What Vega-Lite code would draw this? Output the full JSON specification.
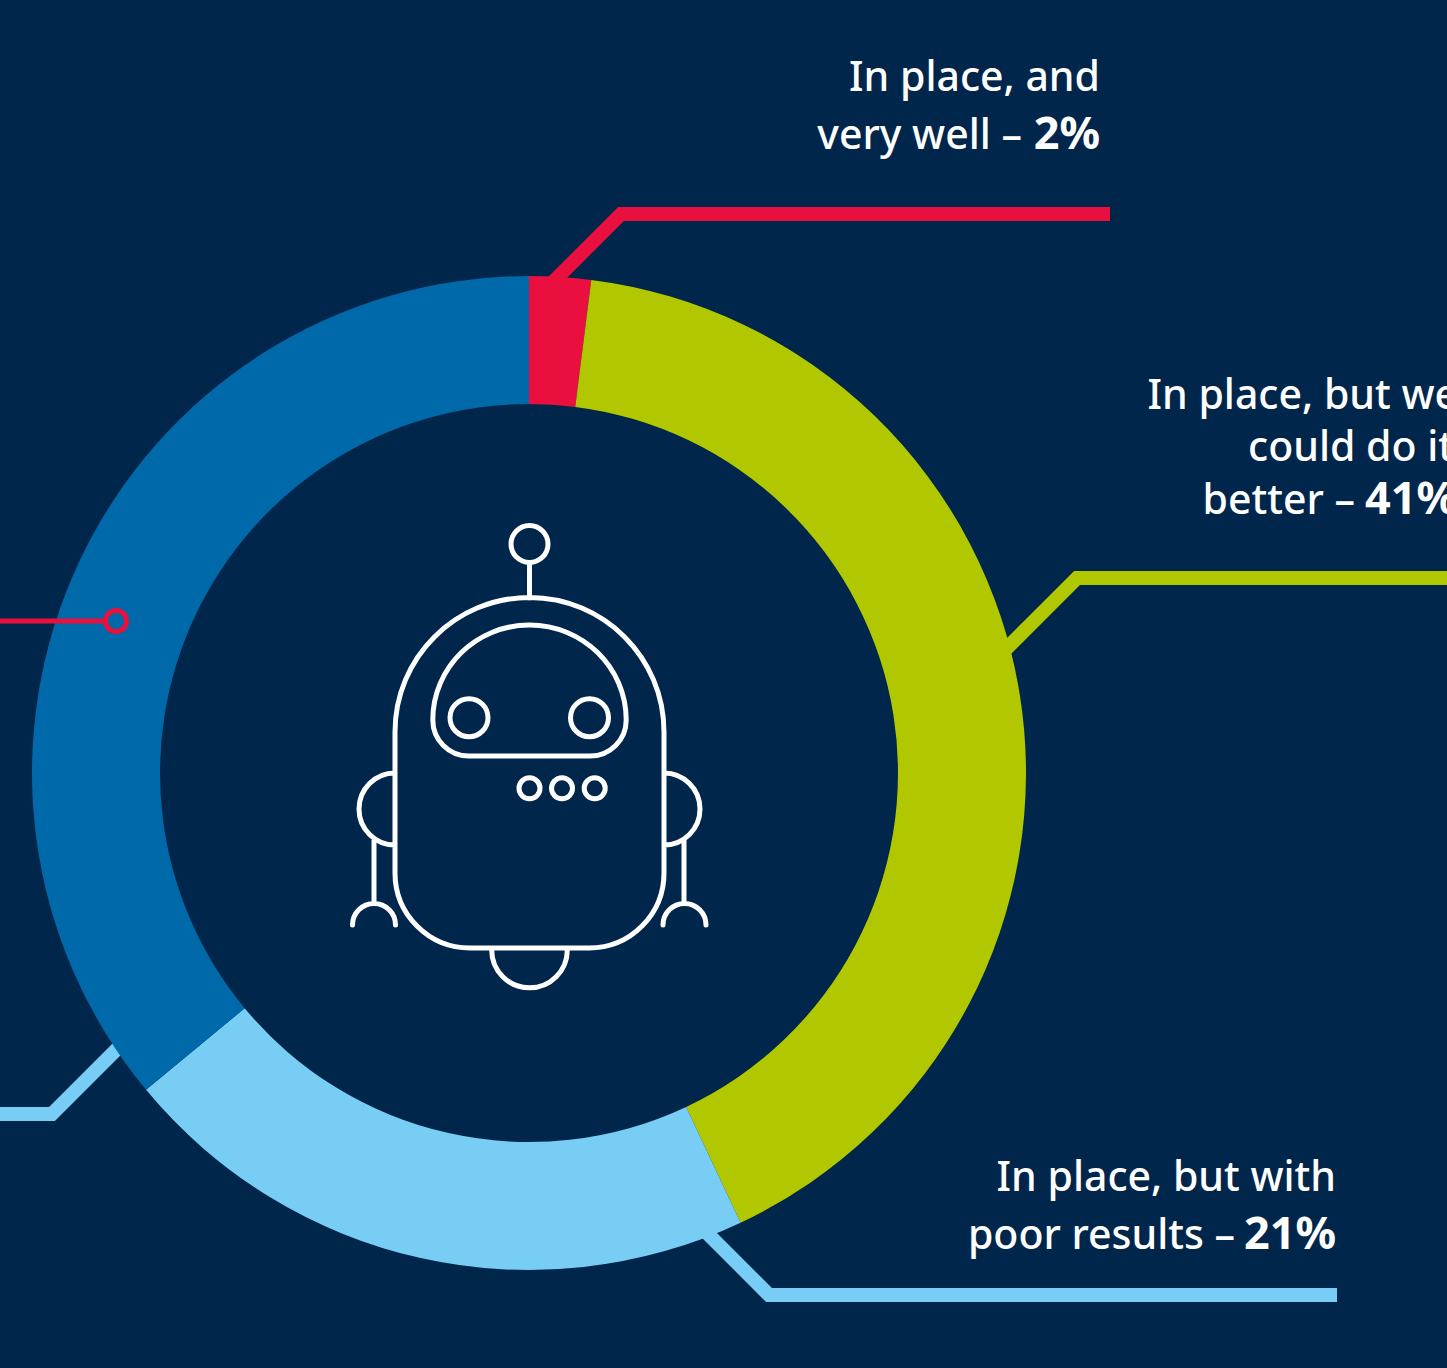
{
  "$schema": "https://vega.github.io/schema/vega-lite/v6.json",
  "width": 1447,
  "height": 1368,
  "padding": 0,
  "autosize": "none",
  "background": "#00264B",
  "view": {"stroke": null},
  "datasets": {
    "segments": [
      {"segment": "In place, and very well", "share": 2, "rank": 1},
      {"segment": "In place, but we could do it better", "share": 41, "rank": 2},
      {"segment": "In place, but with poor results", "share": 21, "rank": 3},
      {"segment": "Remainder", "share": 36, "rank": 4}
    ],
    "leaders": [
      {"leader": "a", "segment": "In place, and very well", "step": 1, "px": 1110, "py": 214},
      {"leader": "a", "segment": "In place, and very well", "step": 2, "px": 621, "py": 214},
      {"leader": "a", "segment": "In place, and very well", "step": 3, "px": 551, "py": 284},
      {"leader": "b", "segment": "In place, but we could do it better", "step": 1, "px": 1447, "py": 578},
      {"leader": "b", "segment": "In place, but we could do it better", "step": 2, "px": 1077, "py": 578},
      {"leader": "b", "segment": "In place, but we could do it better", "step": 3, "px": 1000, "py": 655},
      {"leader": "c", "segment": "In place, but with poor results", "step": 1, "px": 1337, "py": 1295},
      {"leader": "c", "segment": "In place, but with poor results", "step": 2, "px": 769, "py": 1295},
      {"leader": "c", "segment": "In place, but with poor results", "step": 3, "px": 698, "py": 1224},
      {"leader": "d", "segment": "In place, but with poor results", "step": 1, "px": 0, "py": 1114},
      {"leader": "d", "segment": "In place, but with poor results", "step": 2, "px": 52, "py": 1114},
      {"leader": "d", "segment": "In place, but with poor results", "step": 3, "px": 135, "py": 1031}
    ],
    "callout": [
      {"step": 1, "px": 0, "py": 621},
      {"step": 2, "px": 105, "py": 621}
    ],
    "regular": [
      {"line": "In place, and", "px": 1100, "py": 91},
      {"line": "very well –", "px": 1022, "py": 149},
      {"line": "In place, but we", "px": 1458, "py": 409},
      {"line": "could do it", "px": 1454, "py": 461},
      {"line": "better –", "px": 1355, "py": 514},
      {"line": "In place, but with", "px": 1336, "py": 1191},
      {"line": "poor results –", "px": 1235, "py": 1249}
    ],
    "strong": [
      {"line": "2%", "px": 1100, "py": 149},
      {"line": "41%", "px": 1457, "py": 514},
      {"line": "21%", "px": 1336, "py": 1249}
    ],
    "robot": [
      {"figure": "robot"}
    ],
    "marker": [
      {"figure": "callout end"}
    ]
  },
  "layer": [
    {
      "data": {"name": "leaders"},
      "mark": {"type": "line", "strokeWidth": 14, "strokeCap": "butt", "strokeJoin": "miter"},
      "encoding": {
        "x": {"field": "px", "type": "quantitative", "scale": {"domain": [0, 1447], "nice": false}, "axis": null},
        "y": {"field": "py", "type": "quantitative", "scale": {"domain": [1368, 0], "nice": false}, "axis": null},
        "order": {"field": "step"},
        "detail": {"field": "leader"},
        "color": {
          "field": "segment", "type": "nominal", "legend": null,
          "scale": {
            "domain": ["In place, and very well", "In place, but we could do it better", "In place, but with poor results", "Remainder"],
            "range": ["#E9103F", "#B1C800", "#78CDF5", "#0069AA"]
          }
        }
      }
    },
    {
      "data": {"name": "segments"},
      "mark": {"type": "arc", "innerRadius": 369, "outerRadius": 497},
      "encoding": {
        "x": {"datum": 529, "type": "quantitative", "scale": {"domain": [0, 1447], "nice": false}, "axis": null},
        "y": {"datum": 773, "type": "quantitative", "scale": {"domain": [1368, 0], "nice": false}, "axis": null},
        "theta": {"field": "share", "type": "quantitative", "stack": true},
        "order": {"field": "rank"},
        "color": {
          "field": "segment", "type": "nominal", "legend": null,
          "scale": {
            "domain": ["In place, and very well", "In place, but we could do it better", "In place, but with poor results", "Remainder"],
            "range": ["#E9103F", "#B1C800", "#78CDF5", "#0069AA"]
          }
        }
      }
    },
    {
      "data": {"name": "callout"},
      "mark": {"type": "line", "stroke": "#E9103F", "strokeWidth": 5},
      "encoding": {
        "x": {"field": "px", "type": "quantitative", "scale": {"domain": [0, 1447], "nice": false}, "axis": null},
        "y": {"field": "py", "type": "quantitative", "scale": {"domain": [1368, 0], "nice": false}, "axis": null},
        "order": {"field": "step"}
      }
    },
    {
      "data": {"name": "marker"},
      "mark": {"type": "point", "shape": "circle", "filled": false, "size": 441, "stroke": "#E9103F", "strokeWidth": 5, "opacity": 1},
      "encoding": {
        "x": {"datum": 116, "type": "quantitative", "scale": {"domain": [0, 1447], "nice": false}, "axis": null},
        "y": {"datum": 621, "type": "quantitative", "scale": {"domain": [1368, 0], "nice": false}, "axis": null}
      }
    },
    {
      "data": {"name": "robot"},
      "mark": {
        "type": "point",
        "filled": false,
        "size": 4,
        "opacity": 1,
        "stroke": "#FFFFFF",
        "strokeWidth": 5,
        "strokeCap": "round",
        "shape": "M-134.5,-41 A134.5,134.5 0 0 1 134.5,-41 L134.5,100 A75,75 0 0 1 59.5,175 L-59.5,175 A75,75 0 0 1 -134.5,100 Z M-96.7,-53 A96.7,95 0 0 1 96.7,-53 A36,36 0 0 1 60.7,-17 L-60.7,-17 A36,36 0 0 1 -96.7,-53 Z M-79.5,-55.3 A19,19 0 1 0 -41.5,-55.3 A19,19 0 1 0 -79.5,-55.3 Z M41,-55.3 A19,19 0 1 0 79,-55.3 A19,19 0 1 0 41,-55.3 Z M-10.5,15.3 A10.5,10.5 0 1 0 10.5,15.3 A10.5,10.5 0 1 0 -10.5,15.3 Z M22,15.3 A10.5,10.5 0 1 0 43,15.3 A10.5,10.5 0 1 0 22,15.3 Z M54.7,15.3 A10.5,10.5 0 1 0 75.7,15.3 A10.5,10.5 0 1 0 54.7,15.3 Z M-18.5,-229 A18.5,18.5 0 1 0 18.5,-229 A18.5,18.5 0 1 0 -18.5,-229 Z M0,-210.5 L0,-175 M-134.5,0 A36,36 0 0 0 -134.5,72 M134.5,0 A36,36 0 0 1 134.5,72 M-155.5,67 L-155.5,129 M154.5,67 L154.5,129 M-177,152 A21.5,21.5 0 0 1 -134,152 M133.5,152 A21.5,21.5 0 0 1 176.5,152 M-37.8,177 A37.8,37.8 0 0 0 37.8,177"
      },
      "encoding": {
        "x": {"datum": 529.5, "type": "quantitative", "scale": {"domain": [0, 1447], "nice": false}, "axis": null},
        "y": {"datum": 773, "type": "quantitative", "scale": {"domain": [1368, 0], "nice": false}, "axis": null}
      }
    },
    {
      "data": {"name": "regular"},
      "mark": {"type": "text", "align": "right", "baseline": "alphabetic", "font": "Noto Sans", "fontSize": 41, "fontWeight": 500, "fill": "#FFFFFF"},
      "encoding": {
        "x": {"field": "px", "type": "quantitative", "scale": {"domain": [0, 1447], "nice": false}, "axis": null},
        "y": {"field": "py", "type": "quantitative", "scale": {"domain": [1368, 0], "nice": false}, "axis": null},
        "text": {"field": "line"}
      }
    },
    {
      "data": {"name": "strong"},
      "mark": {"type": "text", "align": "right", "baseline": "alphabetic", "font": "Noto Sans", "fontSize": 45, "fontWeight": 700, "fill": "#FFFFFF"},
      "encoding": {
        "x": {"field": "px", "type": "quantitative", "scale": {"domain": [0, 1447], "nice": false}, "axis": null},
        "y": {"field": "py", "type": "quantitative", "scale": {"domain": [1368, 0], "nice": false}, "axis": null},
        "text": {"field": "line"}
      }
    }
  ]
}
